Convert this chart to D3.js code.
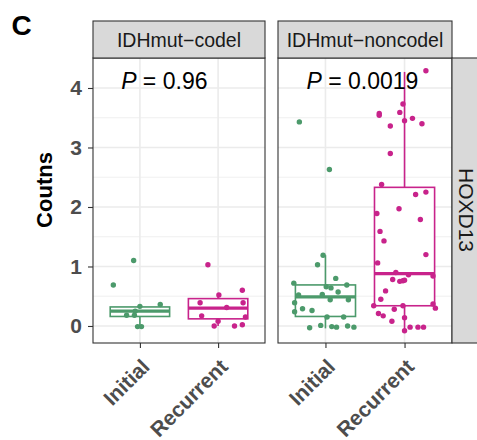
<!DOCTYPE html>
<html>
<head>
<meta charset="utf-8">
<script src="https://cdn.jsdelivr.net/npm/d3@7"></script>
<style>
  body { margin: 0; background: #fff; }
  text { font-family: "Liberation Sans", Arial, sans-serif; }
</style>
</head>
<body>
<div id="chart"></div>
<script>
const width = 477;
const height = 440;

// facets and groups
const facets = ['IDHmut−codel', 'IDHmut−noncodel'];
const groups = ['Initial', 'Recurrent'];
const pValues = ['0.96', '0.0019'];
const gene = 'HOXD13';
const yTicks = [0, 1, 2, 3, 4];

// box stats per facet/group: [lower whisker, q1, median, q3, upper whisker]
const codelInitialBox = [-0.02, 0.16, 0.25, 0.32, 0.36];
const codelRecurrentBox = [0.0, 0.12, 0.30, 0.46, 0.55];
const noncodelInitialBox = [-0.04, 0.16, 0.49, 0.69, 1.19];
const noncodelRecurrentBox = [-0.08, 0.34, 0.88, 2.33, 4.27];

// jittered points: [x jitter in category units, value]
const codelInitial = [
    [-0.08, 1.10], [-0.34, 0.69], [0.26, 0.36], [-0.17, 0.18], [-0.07, 0.18],
    [-0.06, 0.25], [-0.03, -0.01], [0.02, -0.01], [0.0, 0.33]
];
const codelRecurrent = [
    [-0.13, 1.03], [0.31, 0.60], [0.01, 0.52], [-0.23, 0.39], [0.32, 0.39],
    [0.11, 0.31], [-0.21, 0.17], [0.35, 0.15], [0.0, 0.08], [-0.05, 0.0],
    [0.21, 0.0], [0.31, 0.02]
];
const noncodelInitial = [
    [-0.33, 3.43], [0.05, 2.63], [-0.03, 1.19], [-0.10, 1.03], [0.13, 0.80],
    [-0.40, 0.72], [0.01, 0.66], [0.07, 0.64], [0.27, 0.69], [0.16, 0.57],
    [-0.34, 0.52], [-0.04, 0.53], [0.29, 0.44], [0.06, 0.44], [-0.39, 0.39],
    [-0.29, 0.29], [-0.17, 0.26], [-0.39, 0.24], [0.02, 0.15], [0.23, 0.15],
    [-0.20, -0.03], [-0.06, 0.01], [0.08, -0.01], [0.14, -0.02], [0.28, 0.0],
    [0.36, -0.02]
];
const noncodelRecurrent = [
    [0.27, 4.29], [-0.02, 3.73], [-0.32, 3.57], [-0.32, 3.54], [-0.06, 3.59],
    [0.10, 3.49], [0.0, 3.45], [0.22, 3.40], [-0.18, 3.36], [-0.18, 2.90],
    [-0.29, 2.38], [0.14, 2.21], [0.27, 2.25], [-0.07, 1.97], [-0.35, 1.89],
    [0.20, 1.79], [-0.31, 1.59], [-0.26, 1.43], [0.27, 1.20], [-0.34, 1.06],
    [-0.11, 0.90], [0.05, 0.86], [0.36, 0.84], [-0.15, 0.78], [-0.06, 0.75],
    [-0.02, 0.76], [0.0, 0.77], [-0.24, 0.59], [-0.30, 0.45], [-0.39, 0.34],
    [0.36, 0.37], [0.39, 0.30], [-0.13, 0.28], [-0.02, 0.34], [-0.33, 0.21],
    [-0.27, 0.17], [0.0, 0.14], [-0.16, 0.08], [0.07, -0.02], [0.17, -0.02],
    [0.24, -0.02], [0.0, -0.08]
];

const colors = {Initial: '#4c9a6b', Recurrent: '#c8238b'};

const panelData = [
    {facet: facets[0], p: pValues[0], x0: 93, x1: 265,
        series: [{group: 'Initial', box: codelInitialBox, pts: codelInitial},
                 {group: 'Recurrent', box: codelRecurrentBox, pts: codelRecurrent}]},
    {facet: facets[1], p: pValues[1], x0: 278, x1: 452,
        series: [{group: 'Initial', box: noncodelInitialBox, pts: noncodelInitial},
                 {group: 'Recurrent', box: noncodelRecurrentBox, pts: noncodelRecurrent}]}
];

const panelTop = 58, panelBottom = 343;

let svg = d3.select('#chart').append('svg')
    .attr('width', width)
    .attr('height', height);

let y = d3.scaleLinear().domain([-0.286, 4.504]).range([panelBottom, panelTop]);

// panel label
svg.append('text')
    .attr('x', 11.5).attr('y', 35)
    .attr('font-size', 28).attr('font-weight', 'bold')
    .text('C');

// y axis title
svg.append('text')
    .attr('transform', 'translate(51.5,190) rotate(-90)')
    .attr('text-anchor', 'middle')
    .attr('font-size', 22).attr('font-weight', 'bold')
    .text('Coutns');

// y axis
let yAxis = svg.append('g')
    .attr('transform', 'translate(93,0)')
    .call(d3.axisLeft(y).tickValues(yTicks).tickSize(5).tickPadding(6).tickFormat(d3.format('d')));
yAxis.select('.domain').remove();
yAxis.selectAll('line').attr('stroke', '#333').attr('stroke-width', 1.1);
yAxis.selectAll('text')
    .attr('font-size', 21).attr('font-weight', 'bold').attr('fill', '#4d4d4d')
    .attr('font-family', '"Liberation Sans", Arial, sans-serif');

const minorTicks = [0.5, 1.5, 2.5, 3.5];

panelData.forEach(panel => {
    let x = d3.scalePoint().domain(groups).range([panel.x0, panel.x1]).padding(0.6);
    let unit = x.step();
    let g = svg.append('g');

    g.append('rect')
        .attr('x', panel.x0).attr('y', panelTop)
        .attr('width', panel.x1 - panel.x0).attr('height', panelBottom - panelTop)
        .attr('fill', '#fff');

    // grid
    g.selectAll('.minor').data(minorTicks).enter().append('line')
        .attr('x1', panel.x0).attr('x2', panel.x1)
        .attr('y1', d => y(d)).attr('y2', d => y(d))
        .attr('stroke', '#ebebeb').attr('stroke-width', 0.8);
    g.selectAll('.major').data(yTicks).enter().append('line')
        .attr('x1', panel.x0).attr('x2', panel.x1)
        .attr('y1', d => y(d)).attr('y2', d => y(d))
        .attr('stroke', '#ebebeb').attr('stroke-width', 1.6);
    g.selectAll('.vmajor').data(groups).enter().append('line')
        .attr('x1', d => x(d)).attr('x2', d => x(d))
        .attr('y1', panelTop).attr('y2', panelBottom)
        .attr('stroke', '#ebebeb').attr('stroke-width', 1.6);

    // boxes
    panel.series.forEach(s => {
        let cx = x(s.group);
        let bw = unit * 0.76;
        let c = colors[s.group];
        let [lo, q1, med, q3, hi] = s.box;
        g.append('line')
            .attr('x1', cx).attr('x2', cx).attr('y1', y(hi)).attr('y2', y(q3))
            .attr('stroke', c).attr('stroke-width', 1.6);
        g.append('line')
            .attr('x1', cx).attr('x2', cx).attr('y1', y(q1)).attr('y2', y(lo))
            .attr('stroke', c).attr('stroke-width', 1.6);
        g.append('rect')
            .attr('x', cx - bw / 2).attr('y', y(q3))
            .attr('width', bw).attr('height', y(q1) - y(q3))
            .attr('fill', '#fff').attr('stroke', c).attr('stroke-width', 1.6);
        g.append('line')
            .attr('x1', cx - bw / 2).attr('x2', cx + bw / 2)
            .attr('y1', y(med)).attr('y2', y(med))
            .attr('stroke', c).attr('stroke-width', 3.2);
    });

    // points
    panel.series.forEach(s => {
        g.selectAll(null).data(s.pts).enter().append('circle')
            .attr('cx', d => x(s.group) + d[0] * unit)
            .attr('cy', d => y(d[1]))
            .attr('r', 2.7)
            .attr('fill', colors[s.group]);
    });

    // border
    g.append('rect')
        .attr('x', panel.x0).attr('y', panelTop)
        .attr('width', panel.x1 - panel.x0).attr('height', panelBottom - panelTop)
        .attr('fill', 'none').attr('stroke', '#333').attr('stroke-width', 1.1);

    // p value
    let pt = g.append('text')
        .attr('x', x(groups[0]) - 0.24 * unit).attr('y', 89)
        .attr('font-size', 23);
    pt.append('tspan').attr('font-style', 'italic').text('P');
    pt.append('tspan').text(' = ' + panel.p);

    // strip
    g.append('rect')
        .attr('x', panel.x0).attr('y', 21)
        .attr('width', panel.x1 - panel.x0).attr('height', panelTop - 21)
        .attr('fill', '#d9d9d9').attr('stroke', '#333').attr('stroke-width', 1.1);
    g.append('text')
        .attr('x', (panel.x0 + panel.x1) / 2).attr('y', 47)
        .attr('text-anchor', 'middle').attr('font-size', 19.5).attr('fill', '#1a1a1a')
        .text(panel.facet);

    // x axis
    let xAxis = g.append('g')
        .attr('transform', 'translate(0,' + panelBottom + ')')
        .call(d3.axisBottom(x).tickSize(5).tickFormat(''));
    xAxis.select('.domain').remove();
    xAxis.selectAll('line').attr('stroke', '#333').attr('stroke-width', 1.1);

    g.selectAll('.xlab').data(groups).enter().append('text')
        .attr('transform', d => 'translate(' + (x(d) + 11) + ',' + 368 + ') rotate(-45)')
        .attr('text-anchor', 'end')
        .attr('font-size', 21).attr('font-weight', 'bold').attr('fill', '#4d4d4d')
        .text(d => d);
});

// right strip
svg.append('rect')
    .attr('x', 452).attr('y', panelTop)
    .attr('width', 40).attr('height', panelBottom - panelTop)
    .attr('fill', '#d9d9d9').attr('stroke', '#333').attr('stroke-width', 1.1);
svg.append('text')
    .attr('transform', 'translate(459,210) rotate(90)')
    .attr('text-anchor', 'middle').attr('font-size', 21).attr('fill', '#1a1a1a')
    .text(gene);
</script>
</body>
</html>
